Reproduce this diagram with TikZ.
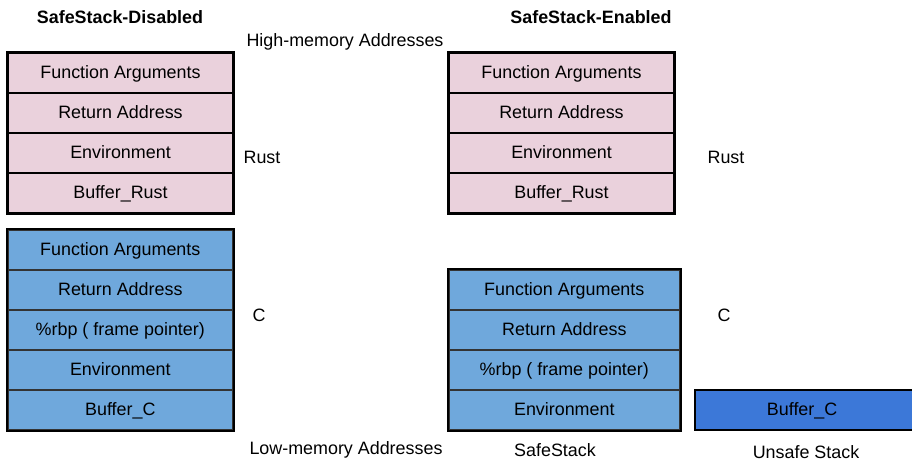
\documentclass[tikz,border=0pt]{standalone}
\usepackage{fontspec}
\setmainfont{Liberation Sans}
\definecolor{pinkc}{HTML}{EAD1DC}
\definecolor{bluec}{HTML}{6FA8DC}
\definecolor{dbluec}{HTML}{3C78D8}
\begin{document}
\begin{tikzpicture}[x=1pt,y=-1pt,
  every node/.style={font=\fontsize{17.9}{21}\selectfont, inner sep=0pt},
  pcell/.style={draw=black, fill=pinkc, line width=2pt, minimum width=225pt, minimum height=40pt, anchor=north west, text depth=2pt},
  bcell/.style={draw=black!80, fill=bluec, line width=1.6pt, minimum width=225pt, minimum height=40pt, anchor=north west, text depth=2pt},
  pouter/.style={draw=black, line width=2.8pt},
  bouter/.style={draw=black, line width=2.2pt},
  title/.style={font=\bfseries\fontsize{17.9}{21}\selectfont},
  lbl/.style={}]
\useasboundingbox (0,0) rectangle (912,462);
% left pink
\node[pcell] (lp1) at (7,52) {Function Arguments};
\node[pcell] (lp2) at (7,92) {Return Address};
\node[pcell] (lp3) at (7,132) {Environment};
\node[pcell] (lp4) at (7,172) {Buffer\_Rust};
\draw[pouter] (lp1.north west) rectangle (lp4.south east);
% left blue
\node[bcell] (lb1) at (7,229) {Function Arguments};
\node[bcell] (lb2) at (7,269) {Return Address};
\node[bcell] (lb3) at (7,309) {\%rbp ( frame pointer)};
\node[bcell] (lb4) at (7,349) {Environment};
\node[bcell] (lb5) at (7,389) {Buffer\_C};
\draw[bouter] (lb1.north west) rectangle (lb5.south east);
% right pink
\node[pcell] (rp1) at (448,52) {Function Arguments};
\node[pcell] (rp2) at (448,92) {Return Address};
\node[pcell] (rp3) at (448,132) {Environment};
\node[pcell] (rp4) at (448,172) {Buffer\_Rust};
\draw[pouter] (rp1.north west) rectangle (rp4.south east);
% right blue
\node[bcell, minimum width=231pt] (rb1) at (448,269) {Function Arguments};
\node[bcell, minimum width=231pt] (rb2) at (448,309) {Return Address};
\node[bcell, minimum width=231pt] (rb3) at (448,349) {\%rbp ( frame pointer)};
\node[bcell, minimum width=231pt] (rb4) at (448,389) {Environment};
\draw[bouter] (rb1.north west) rectangle (rb4.south east);
% unsafe
\node[draw=black, fill=dbluec, line width=2.2pt, minimum width=222pt, minimum height=40pt, anchor=north west, text depth=2pt] (ub) at (694,389) {\hspace*{-4pt}Buffer\_C\hspace*{4pt}};
% labels
\node[title] (t1) at (120,17) {SafeStack-Disabled};
\node[title] (t2) at (591,17) {SafeStack-Enabled};
\node[lbl] (hi) at (345,42) {High-memory Addresses};
\node[lbl] (lo) at (346,450) {Low-memory Addresses};
\node[lbl] (r1) at (262,157) {Rust};
\node[lbl] (r2) at (726,157) {Rust};
\node[lbl] (c1) at (259,315) {C};
\node[lbl] (c2) at (724,315) {C};
\node[lbl] (ss) at (555,450) {SafeStack};
\node[lbl] (us) at (806,452) {Unsafe Stack};
\end{tikzpicture}
\end{document}
